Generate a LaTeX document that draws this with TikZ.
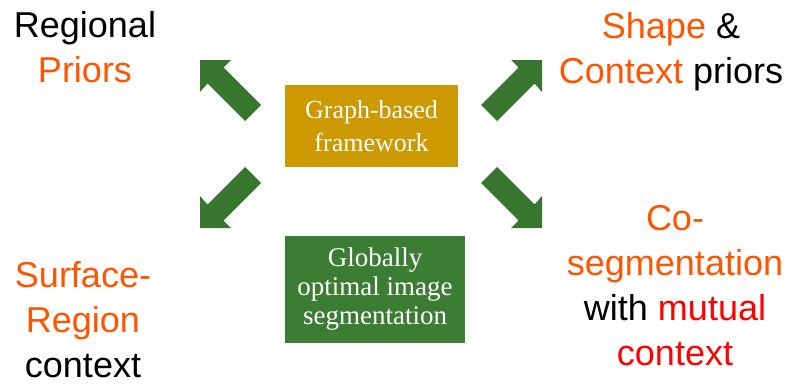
\documentclass[tikz,border=0pt]{standalone}
\usepackage{fontspec}
\setmainfont{Liberation Sans}
\newfontfamily\boxfont{Liberation Serif}
\definecolor{priororange}{RGB}{255,85,0}
\definecolor{mutualred}{RGB}{255,0,0}
\definecolor{arrowgreen}{RGB}{56,117,46}
\definecolor{boxgreen}{RGB}{59,125,51}
\definecolor{boxgold}{RGB}{204,153,0}
\tikzset{
  topic/.style={align=center, inner sep=0pt, anchor=base,
    font=\fontsize{36}{45}\selectfont},
  block/.style={text=white, align=center, inner sep=0pt,
    font=\boxfont\fontsize{26}{33}\selectfont},
  blockarrow/.pic={
    \fill[arrowgreen] (0,0) -- (31,0) -- (23.5,7.5) -- (61,45) -- (45,61)
      -- (7.5,23.5) -- (0,32) -- cycle;
  }
}
\begin{document}
\begin{tikzpicture}[x=1pt, y=-1pt]
  \useasboundingbox (0,0) rectangle (791,383);
  % Centre boxes
  \node[block, fill=boxgold, minimum width=173, minimum height=82]
    (graph) at (371.5,126) {Graph-based\\framework};
  \node[block, fill=boxgreen, minimum width=180, minimum height=107,
    font=\boxfont\fontsize{27}{29}\selectfont]
    (optimal) at (375,289.5) {Globally\\optimal image\\segmentation};
  % Block arrows pointing outwards
  \pic at (200,60) {blockarrow};
  \pic[xscale=-1] at (542,60) {blockarrow};
  \pic[yscale=-1] at (200,228) {blockarrow};
  \pic[xscale=-1, yscale=-1] at (542,228) {blockarrow};
  % Topics (anchored at the baseline of the last line)
  \node[topic] (regional) at (85,82)
    {Regional\\\textcolor{priororange}{Priors}};
  \node[topic] (shape) at (671,83)
    {\textcolor{priororange}{Shape} \&\\\textcolor{priororange}{Context} priors};
  \node[topic] (surface) at (83,377)
    {\textcolor{priororange}{Surface-}\\\textcolor{priororange}{Region}\\context};
  \node[topic] (coseg) at (675,365)
    {\textcolor{priororange}{Co-}\\\textcolor{priororange}{segmentation}\\with
     \textcolor{mutualred}{mutual}\\\textcolor{mutualred}{context}};
\end{tikzpicture}
\end{document}
